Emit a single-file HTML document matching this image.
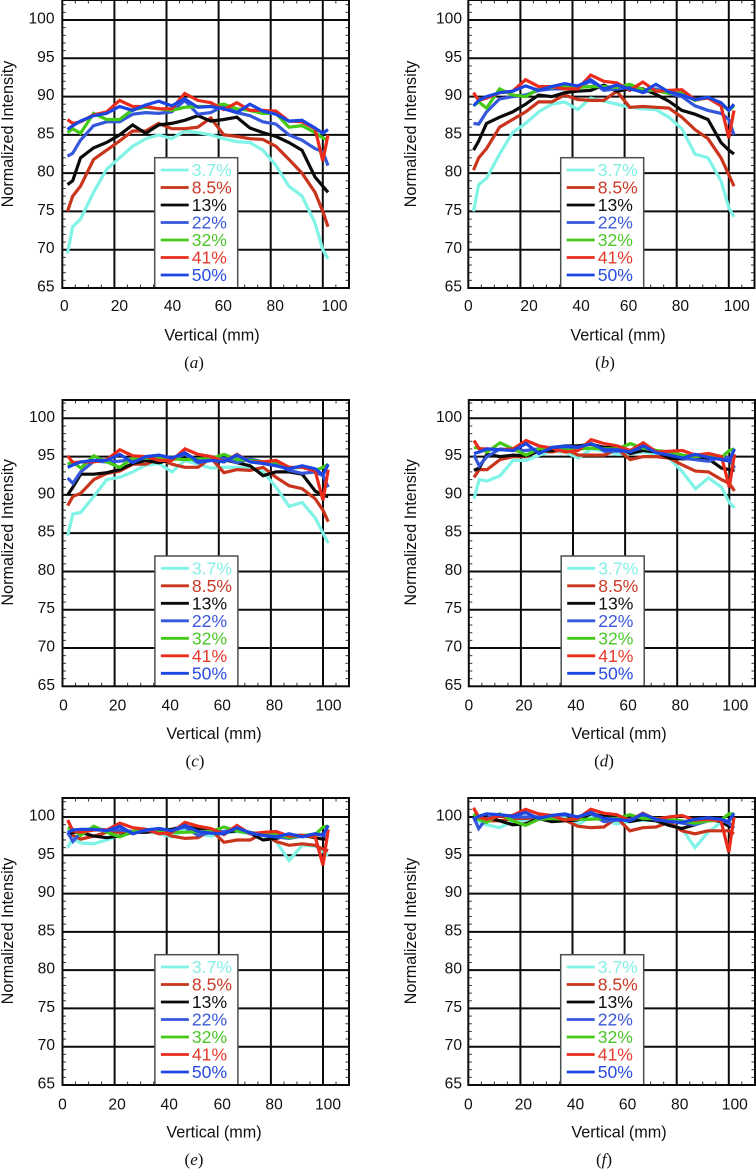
<!DOCTYPE html>
<html lang="en">
<head>
<meta charset="utf-8">
<title>Normalized intensity vs vertical position</title>
<style>
html,body{margin:0;padding:0;background:#fff;}
body{width:756px;height:1176px;overflow:hidden;}
svg{display:block;}
text{font-family:"Liberation Sans",sans-serif;}
</style>
</head>
<body>
<svg id="figure" xmlns="http://www.w3.org/2000/svg" width="756" height="1176" viewBox="0 0 756 1176"></svg>
<script>
const verticalMm = [2,4,7,12,17,22,27,32,37,42,47,52,57,62,67,72,77,82,87,92,97,100,102];
const seriesLabels = ["3.7%","8.5%","13%","22%","32%","41%","50%"];
const xTicks = [0,20,40,60,80,100];
const yTicks = [65,70,75,80,85,90,95,100];
const panelLetters = ["a","b","c","d","e","f"];

const intensityA = [
[69.5,73,74,77.5,80.5,82,83.5,84.5,85,84.5,85.5,85.3,85,84.5,84.1,84,83,81,78.3,77,73.5,70,68.8],
[75,77,78.3,81.8,83,84.2,85.5,85.5,86.5,85.8,85.8,86,87.2,85,84.8,84.5,84.4,83.5,81.8,80,77.5,75,73],
[78.5,79,82,83.3,84,85,86.3,85.2,86.3,86.5,86.9,87.5,86.8,87,87.3,85.9,85.3,84.8,84,83,79.5,78.3,77.5],
[82.2,82.6,84.3,86.2,86.7,86.7,87.7,87.9,87.8,88,89.5,87.7,87.9,88.8,87.9,87.5,86.7,86.4,85,84.3,83.2,82.8,81],
[85.3,85.8,85.2,87.8,87,87,88.3,88.6,88.4,88.2,88.6,88.7,88.7,89,88.4,88.2,87.8,87.8,86,86.2,85.3,84.6,84.3],
[87,86.5,86.7,87.6,88,89.5,88.7,88.7,88.4,88.4,90.4,89.5,89.2,88.3,89.2,88.2,88.2,88.1,86.8,86.7,85.8,81.6,85],
[85.7,86.2,86.8,87.5,87.8,88.7,88.2,88.9,89.4,88.8,89.7,88.6,88.7,88.4,87.9,89,88.1,87.7,86.8,86.9,85.9,85.2,85.7]
];
const intensityB = [
[75,78.5,79.3,82.5,85.3,86.5,88,89,89.3,88.3,89.8,89.4,89,88.6,88.4,88.3,87.3,85.8,82.5,82,79,75.5,74.3],
[80.4,82,83.2,86,87,88,89.3,89.3,90.2,89.6,89.5,89.5,90.7,88.6,88.7,88.6,88.5,87.3,85.7,84.5,82,79.8,78.3],
[83,84.2,86.5,87.3,88,89,90.2,90,90.5,90.7,90.8,91.5,90.7,91,91,90.3,89.4,88.2,87.7,87,84,83,82.5],
[86.5,86.4,88,89.7,90,90.2,90.8,91,91,91.2,92,90.8,91,91.2,90.5,91,90.4,90,88.8,88.2,87.8,87,85],
[88.8,89.3,88.5,91,90.2,90,91,91.2,91.3,91.2,91.3,91.3,91.2,91.6,90.9,90.8,90.4,90.5,89.5,89.9,89,88.2,88.8],
[90.5,89.5,89.8,90.5,90.7,92.2,91.3,91.3,91,91,92.8,92,91.8,90.8,91.9,90.7,90.8,90.9,89.6,89.8,88.8,84.6,88.2],
[88.8,89.5,90,90.5,90.7,91.4,90.8,91.3,91.7,91.4,92.2,91,91.5,91,90.6,91.6,90.6,90.2,89.6,89.9,89.2,88.2,89]
];
const intensityC = [
[84.7,87.5,87.7,89.8,92,92.3,93,93.9,94.1,93,94.5,94,93.5,93.6,93.6,93.5,93,91,88.5,89,87,85,83.7],
[88.6,89.8,90.2,92,92.8,93.1,94,94,94.7,94,93.6,93.6,94.8,92.9,93.3,93.2,93.6,92.3,91.2,90.8,89.5,88,86.5],
[90,91,92.7,92.7,92.9,93.3,94.1,94.5,94.2,94.6,95,94.6,94.6,94.6,94.2,93.8,92.5,93,93,92.7,90.5,89.9,89.8],
[92.2,91.5,93,94.4,94.3,94.4,94.6,94.8,94.9,94.7,95.3,94.2,94.5,94.8,94.2,94.7,94.3,94,93.2,92.8,93,92.5,91],
[94,94.3,93.5,95.1,94.3,93.6,94.8,94.8,94.8,94.7,94.6,94.7,94.7,95.3,94.6,94.5,94.3,94.3,93.5,93.6,93.2,93.6,94],
[95.1,94.2,94.3,94.3,94.6,95.9,95.1,95,94.5,94.5,96,95.3,95,94.3,95.3,94.3,94.3,94.5,93.6,93.6,93.1,89.3,93.3],
[93.6,93.9,94.3,94.5,94.5,95.3,94.2,95,95.2,94.8,95.5,94.4,94.5,94.3,95.2,94.3,94.1,93.8,93.4,93.8,93.4,92.6,94]
];
const intensityD = [
[89.5,92,91.8,92.5,94.5,94.5,95.2,95.7,95.6,94.8,96,95.7,95.3,95.4,95.6,95.3,94.8,93,90.8,92.2,91,89,88.3],
[92.3,93.3,93.3,94.6,95,95,95.8,95.6,96,95.2,95.2,95.2,96,94.6,95,95,94.8,93.9,93.1,93,92,91.5,90.5],
[93.2,93.5,95.3,95,95.2,95.1,95.7,95.8,96.4,96.4,96.6,96.2,96.2,95.4,95.8,95.6,94.8,94.7,94.8,94.7,93.5,93.3,93.2],
[95.2,93.8,95,96,95.8,95.8,96,96.2,96.4,96.2,96.7,95.7,95.7,95.7,96.2,95.8,95.4,94.8,94.6,94.4,95,94.8,93.5],
[96.2,96.1,95.6,96.8,96,95.2,96,96.2,96.1,96,96.1,96,96,96.7,96.1,95.8,95.6,95.2,95,95.2,94.9,95.8,96],
[97.1,96,96,95.9,96,97.1,96.4,96.1,95.6,95.8,97.2,96.7,96.4,95.8,96.8,95.6,95.7,95.8,95.2,95.4,95,91,95.3],
[95.4,95.6,96,95.9,95.8,96.7,95.4,96.2,96.3,96.2,96.7,95.9,95.9,95.6,96.4,95.5,95.2,94.8,95.3,94.9,94.6,94.4,96]
];
const intensityE = [
[96,97.2,96.6,96.5,97,97.6,98,98.1,97.8,97.4,98.3,97.8,97.5,97.9,98.1,97.8,97.6,96.8,94.3,96.3,96.2,95.5,95],
[98,97.6,97.1,97.5,98,98,98.1,98,98.2,97.5,97.2,97.3,98.3,96.7,97,97,97.9,96.8,96.3,96.5,96.3,95.8,95.6],
[97.6,98,98,97.5,97.3,97.5,98,98,98.3,98.4,98.8,98.4,98.2,98,98.2,97.9,97,97.2,97.6,97.6,97.3,97.1,97.1],
[98,96.8,98,98.5,98.3,98.3,98.1,98.2,98.5,98.2,98.7,97.6,98,98.1,98.4,98,97.7,97.4,97.2,97.5,97.8,97.7,97.2],
[98.6,98.4,97.6,98.8,98,97.4,98.1,98.4,98,98,98,98.1,98.1,98.7,98.2,97.9,97.9,97.7,97.3,97.6,97.7,98.7,98.8],
[99.6,98.2,98,98.3,98.3,99.2,98.6,98.4,97.8,98,99.3,98.8,98.5,97.7,98.9,97.8,98,98.1,97.5,97.6,97.4,93.7,98.4],
[98,98.3,98.4,98.4,98.2,98.8,97.8,98.3,98.5,98.2,98.9,98.1,97.9,97.8,98.6,97.9,97.6,97.4,97.8,97.4,97.8,97.6,98.9]
];
const intensityF = [
[99.5,99.4,99,98.6,99.4,99.6,99.8,100,99.9,99,100,99.5,99.1,99.4,99.6,99.5,99,98.5,96,98,99.3,99.3,98.8],
[99.8,99.7,99.5,99.5,99.8,99.8,99.9,99.9,99.6,98.8,98.6,98.7,99.9,98.2,98.6,98.7,99.3,98.2,97.8,98.2,98.2,98.2,97.8],
[99.6,100,100,99.5,99,99.1,99.8,99.4,99.5,99.6,100.4,100.1,100,99.4,99.7,99.5,98.9,98.5,99,99.7,99.4,98.8,98.7],
[100,98.5,99.8,100.3,100,100,100,100.1,100.3,100,100.5,99.4,99.6,99.7,100.2,99.6,99.5,99.2,99,99.5,99.6,99.2,98.5],
[100.4,99.7,99.3,100.4,99.5,98.9,99.7,99.8,99.7,99.7,99.7,99.8,99.8,100.3,99.8,99.8,99.7,99.5,99.2,99.5,99.6,100.4,100.4],
[101.2,100,99.7,100.1,100.2,101,100.4,100.2,99.6,99.8,101,100.5,100.3,99.5,100.5,99.7,100,100.2,99.6,99.7,99.5,95.4,100],
[99.7,100.1,100.4,100.3,100.1,100.6,99.8,100.2,100.4,100,100.6,99.8,99.7,99.5,100.4,99.7,99.4,99.3,99.7,99.9,99.7,99.4,100.5]
];
const panelIntensities = [intensityA,intensityB,intensityC,intensityD,intensityE,intensityF];

const seriesColors = ["#7ff3e6","#c9341c","#0a0a0a","#3557dc","#43c916","#ea2c1c","#1c46e2"];
const legendTextColors = ["#86efe6","#c93a26","#111111","#3a58d8","#4cc62a","#e63a2c","#2a4ce0"];

/* layout of each panel */
const layouts = [
  {x0:62.3, y100:20,    right:349,   top:0,   yLabelRight:54.5, yTitleX:13,  xTitleX:212, captionX:194, tickDx:[2,5,6,4.7,4.5,11.7], tickBase:290.8},
  {x0:468.3,y100:20,    right:754.5, top:0,   yLabelRight:462,  yTitleX:416, xTitleX:618, captionX:605, tickDx:[0,8.7,8.6,4,3.7,8],  tickBase:290.8},
  {x0:62.5, y100:418.3, right:349,   top:400, yLabelRight:55,   yTitleX:13,  xTitleX:214, captionX:195, tickDx:[1,3,3.5,3.5,3.5,5.5],tickBase:292},
  {x0:468.8,y100:418.3, right:755,   top:400, yLabelRight:462,  yTitleX:416, xTitleX:619, captionX:604, tickDx:[0,3,3,3,3,6],         tickBase:292},
  {x0:62.5, y100:817,   right:349,   top:798, yLabelRight:55,   yTitleX:13,  xTitleX:214, captionX:194, tickDx:[0,2.5,2.5,3.5,3.2,5], tickBase:292.3},
  {x0:468.3,y100:817,   right:755,   top:798, yLabelRight:462,  yTitleX:416, xTitleX:619, captionX:604, tickDx:[0,3,3,3,3,6],         tickBase:292.3}
];

const svgNS = "http://www.w3.org/2000/svg";
const figure = document.getElementById("figure");

function make(parent, tag, attrs, content) {
  const node = document.createElementNS(svgNS, tag);
  for (const key in attrs) node.setAttribute(key, attrs[key]);
  if (content !== undefined) node.textContent = content;
  parent.appendChild(node);
  return node;
}

layouts.forEach(function (layout, p) {
  const letter = panelLetters[p];
  const xAxis = function (mm) { return layout.x0 + mm * 2.605; };
  const yAxis = function (v) { return layout.y100 + (100 - v) * 7.657; };
  const bottom = yAxis(65);

  const panel = make(figure, "g", {});
  
  

  /* minor ticks */
  const minor = make(panel, "g", {stroke:"#333", "stroke-width":1});
  
  
  for (let mm = 5; xAxis(mm) < layout.right; mm += 5) {
    const px = xAxis(mm);
    make(minor, "line", {x1:px, x2:px, y1:layout.top, y2:layout.top + 3.5});
    make(minor, "line", {x1:px, x2:px, y1:bottom - 3.5, y2:bottom});
  }
  for (let v = 66; yAxis(v) > layout.top; v += 1) {
    const py = yAxis(v);
    make(minor, "line", {x1:layout.x0, x2:layout.x0 + 3.5, y1:py, y2:py});
    make(minor, "line", {x1:layout.right - 3.5, x2:layout.right, y1:py, y2:py});
  }

  /* grid */
  const grid = make(panel, "g", {stroke:"#0c0c0c", "stroke-width":2});
  
  
  xTicks.slice(1).forEach(function (t) {
    make(grid, "line", {x1:xAxis(t), x2:xAxis(t), y1:layout.top, y2:bottom});
  });
  yTicks.slice(1).forEach(function (t) {
    make(grid, "line", {x1:layout.x0, x2:layout.right, y1:yAxis(t), y2:yAxis(t)});
  });

  /* series */
  panelIntensities[p].forEach(function (values, s) {
    const pts = values.map(function (v, i) {
      return xAxis(verticalMm[i]).toFixed(1) + "," + yAxis(v).toFixed(1);
    }).join(" ");
    const line = make(panel, "polyline", {points:pts, fill:"none", stroke:seriesColors[s], "stroke-width":3.2, "stroke-linejoin":"miter", "stroke-miterlimit":3, "stroke-linecap":"butt"});
    
    
  });

  /* legend */
  const legend = make(panel, "g", {});
  
  
  const lx = layout.x0 + 92.4;
  make(legend, "rect", {x:lx, y:layout.y100 + 137.7, width:83, height:130.3, fill:"#fff", stroke:"#4a4f50", "stroke-width":1.5});
  seriesLabels.forEach(function (label, s) {
    const rowY = layout.y100 + 150 + s * 17.5;
    const entry = make(legend, "g", {});
    
    
    make(entry, "line", {x1:lx + 6, x2:lx + 34, y1:rowY, y2:rowY, stroke:seriesColors[s], "stroke-width":2.8});
    make(entry, "text", {x:lx + 37, y:rowY + 6, "font-size":17.6, fill:legendTextColors[s]}, label);
  });

  /* frame */
  const frame = make(panel, "rect", {x:layout.x0, y:layout.top, width:layout.right - layout.x0, height:bottom - layout.top, fill:"none", stroke:"#0c0c0c", "stroke-width":2});
  
  

  /* tick labels */
  xTicks.forEach(function (t, i) {
    const label = make(panel, "text", {x:xAxis(t) + layout.tickDx[i], y:layout.y100 + layout.tickBase, "font-size":15.6, "text-anchor":"middle", fill:"#111"}, String(t));
    
    
  });
  yTicks.forEach(function (t) {
    const label = make(panel, "text", {x:layout.yLabelRight, y:yAxis(t) + 3.5, "font-size":15.6, "text-anchor":"end", fill:"#111"}, String(t));
    
    
  });

  /* axis titles */
  const xTitle = make(panel, "text", {x:layout.xTitleX, y:layout.y100 + 320.5, "font-size":16.2, "text-anchor":"middle", fill:"#111"}, "Vertical (mm)");
  
  
  const yMid = layout.y100 + 114;
  const yTitle = make(panel, "text", {x:layout.yTitleX, y:yMid, "font-size":16.2, "text-anchor":"middle", fill:"#111", transform:"rotate(-90 " + layout.yTitleX + " " + yMid + ")"}, "Normalized Intensity");
  
  

  /* caption */
  const caption = make(panel, "text", {x:layout.captionX, y:layout.y100 + 348, "font-size":17, "text-anchor":"middle", fill:"#111", style:"font-family:'Liberation Serif',serif"});
  
  
  make(caption, "tspan", {}, "(");
  make(caption, "tspan", {"font-style":"italic"}, letter);
  make(caption, "tspan", {}, ")");
});
</script>
</body>
</html>
